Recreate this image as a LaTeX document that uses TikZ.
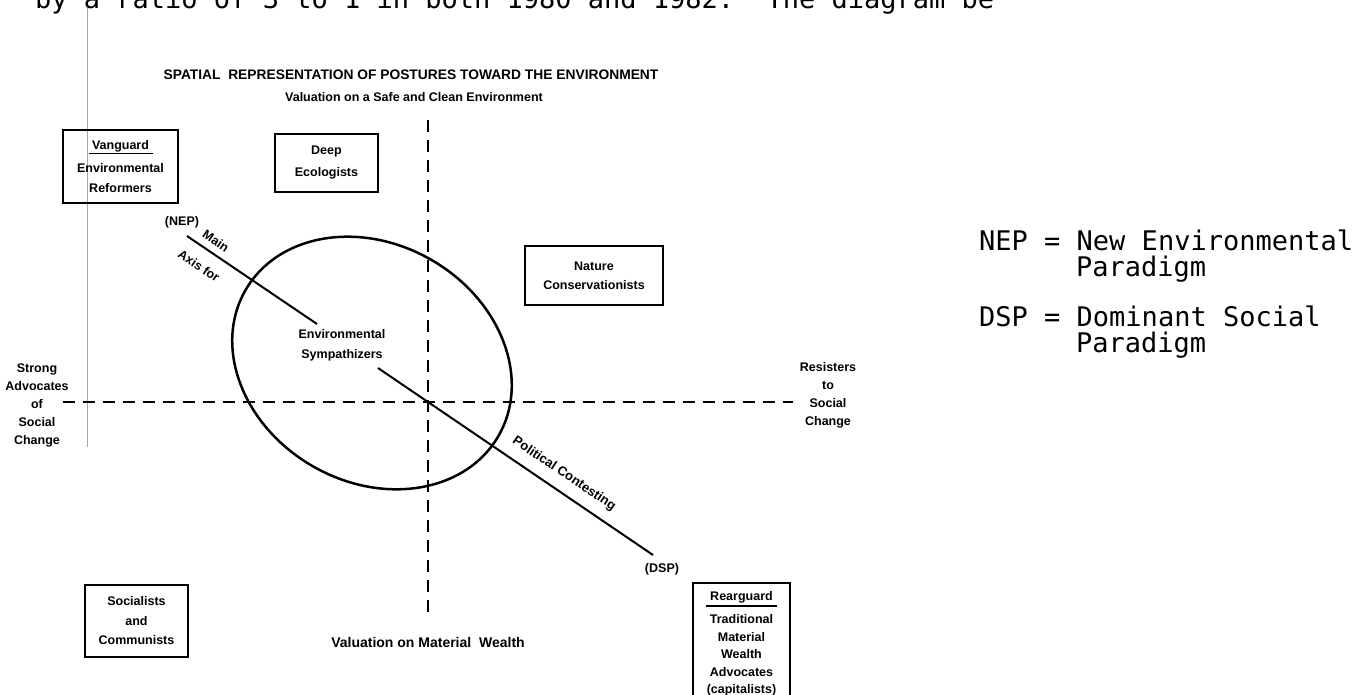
\documentclass[tikz,border=0pt]{standalone}
\usepackage{fontspec}
\setmainfont{Liberation Sans}
\newfontfamily\twfont{DejaVu Sans Mono}
\frenchspacing
\begin{document}
\begin{tikzpicture}[x=1pt,y=-1pt,
  box/.style={draw, line width=1.8pt, inner sep=0pt, align=center,
    font=\bfseries\fontsize{12.5}{20}\selectfont},
  lbl/.style={inner sep=0pt, align=center, font=\bfseries\fontsize{12.5}{18}\selectfont},
  ttl/.style={inner sep=0pt, font=\bfseries\fontsize{13.8}{16}\selectfont},
  axisline/.style={line width=2.2pt, dash pattern=on 12pt off 8pt},
  heavy/.style={line width=2.2pt},
  tw/.style={inner sep=0pt, anchor=base west, font=\twfont\fontsize{27}{27}\selectfont}]
\useasboundingbox (0,0) rectangle (1369,694);
\clip (0,0) rectangle (1369,694);

% typewritten text
\node[tw] (topline) at (35,8) {by a ratio of 3 to 1 in both 1980 and 1982.~~The diagram be};
\node[tw] (nep) at (979,250) {NEP = New Environmental};
\node[tw] (nep2) at (1076,276) {Paradigm};
\node[tw] (dsp) at (979,326) {DSP = Dominant Social};
\node[tw] (dsp2) at (1076,352) {Paradigm};

% faint margin line
\coordinate (mtop) at (87,8);
\coordinate (mbot) at (87,447);
\draw[gray!70, line width=0.6pt] (mtop) -- (mbot);

% titles
\node[ttl] (title) at (411,75) {SPATIAL~~REPRESENTATION OF POSTURES TOWARD THE ENVIRONMENT};
\node[lbl] (safe) at (414,97) {Valuation on a Safe and Clean Environment};
\node[lbl, font=\bfseries\fontsize{14}{18}\selectfont] (wealth) at (428,642) {Valuation on Material~~Wealth};

% axes
\coordinate (vtop) at (428,120);
\coordinate (vbot) at (428,616);
\coordinate (hl) at (63,402);
\coordinate (hr) at (793,402);
\draw[axisline] (vtop) -- (vbot);
\draw[axisline] (hl) -- (hr);

% axis end labels
\node[lbl] (strong) at (37,405) {Strong\\Advocates\\of\\Social\\Change};
\node[lbl] (resist) at (828,395) {Resisters\\to\\Social\\Change};

% boxes
\node[box, minimum width=115pt, minimum height=73pt] (van) at (120.5,166.5)
  {Vanguard\\[-15pt]\rule{64pt}{1.3pt}\\[-2pt]Environmental\\Reformers};
\node[box, minimum width=103pt, minimum height=58pt, font=\bfseries\fontsize{12.5}{22}\selectfont] (deep) at (326.5,163) {Deep\\Ecologists};
\node[box, minimum width=138pt, minimum height=59pt, font=\bfseries\fontsize{12.5}{19}\selectfont] (nature) at (594,275.5) {Nature\\Conservationists};
\node[box, minimum width=103pt, minimum height=72pt, font=\bfseries\fontsize{12.5}{19.5}\selectfont] (soc) at (136.5,621) {Socialists\\and\\Communists};
\node[box, minimum width=97pt, minimum height=122pt, font=\bfseries\fontsize{12.5}{17.5}\selectfont] (rear) at (741.5,644)
  {Rearguard\\[-11.5pt]\rule{71pt}{1.3pt}\\[-0.5pt]Traditional\\Material\\Wealth\\Advocates\\(capitalists)};

% ellipse of sympathizers
\draw[heavy, line width=2.5pt, rotate around={-30:(372,363)}] (372,363) ellipse (146pt and 119pt);
\node[lbl, font=\bfseries\fontsize{12.5}{20}\selectfont] (sym) at (342,345) {Environmental\\Sympathizers};

% main axis
\node[lbl] (nepl) at (182,222) {(NEP)};
\node[lbl] (dspl) at (662,569) {(DSP)};
\coordinate (m1) at (187,236);
\coordinate (m2) at (317,324);
\coordinate (m3) at (378,368);
\coordinate (m4) at (653,555);
\draw[heavy, line width=2pt] (m1) -- (m2);
\draw[heavy, line width=2pt] (m3) -- (m4);
\node[lbl, rotate=-34] (mainl) at (216,241) {Main};
\node[lbl, rotate=-34] (axisl) at (199,266) {Axis for};
\node[lbl, rotate=-34, font=\bfseries\fontsize{13}{18}\selectfont] (polit) at (564,474) {Political Contesting};
\end{tikzpicture}
\end{document}
